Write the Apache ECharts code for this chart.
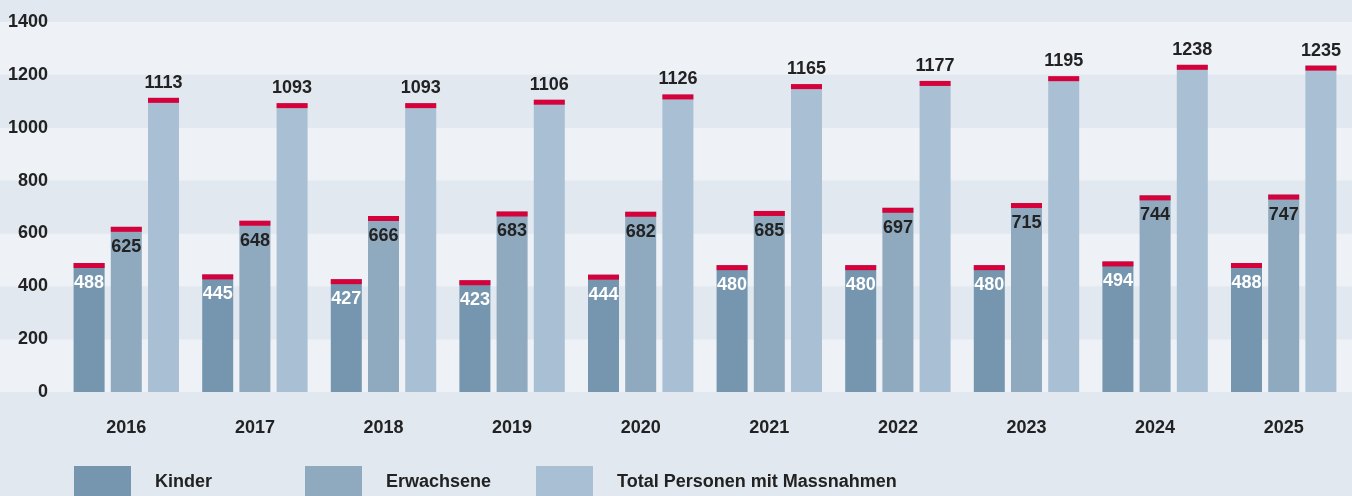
<!DOCTYPE html>
<html>
<head>
<meta charset="utf-8">
<script src="https://cdn.jsdelivr.net/npm/echarts@6/dist/echarts.min.js"></script>
<style>
  html, body { margin: 0; padding: 0; background: #e1e8f0; }
  #chart { width: 1352px; height: 496px; }
</style>
</head>
<body>
<div id="chart"></div>
<script>
const YEARS = ['2016', '2017', '2018', '2019', '2020', '2021', '2022', '2023', '2024', '2025'];
const kinder = [488, 445, 427, 423, 444, 480, 480, 480, 494, 488];
const erwachsene = [625, 648, 666, 683, 682, 685, 697, 715, 744, 747];
const total = [1113, 1093, 1093, 1106, 1126, 1165, 1177, 1195, 1238, 1235];
const NAMES = ['Kinder', 'Erwachsene', 'Total Personen mit Massnahmen'];
const COLORS = ['#7596ae', '#8fa9bf', '#a9bfd3'];
const LEGEND_LEFT = [74, 305, 536];

const FONT = '"Liberation Sans Narrow", "Liberation Sans", Arial, sans-serif';
const FONT_SIZE = 18;
const TEXT = '#222222';
const RED = '#d6003a';

const chart = echarts.init(document.getElementById('chart'));

const barBase = {
  type: 'bar',
  xAxisIndex: 1,
  yAxisIndex: 1,
  barWidth: 31,
  barGap: '20%',
  z: 2,
};

const capBase = {
  type: 'pictorialBar',
  xAxisIndex: 1,
  yAxisIndex: 1,
  barWidth: 31,
  barGap: '20%',
  symbol: 'rect',
  symbolSize: [31, 5],
  symbolPosition: 'end',
  itemStyle: { color: RED },
  silent: true,
  z: 3,
};

const labelBase = {
  show: true,
  fontFamily: FONT,
  fontSize: FONT_SIZE,
  fontWeight: 'bold',
};

// one legend per item so they sit on a fixed spacing like the original
const legends = NAMES.map((name, i) => ({
  left: LEGEND_LEFT[i],
  top: 466,
  padding: 0,
  itemWidth: 57,
  itemHeight: 32,
  icon: 'rect',
  selectedMode: false,
  data: [name],
  textStyle: {
    color: TEXT,
    fontFamily: FONT,
    fontSize: FONT_SIZE,
    fontWeight: 'bold',
    padding: [0, 0, 0, 19],
  },
}));

const option = {
  animation: false,
  backgroundColor: '#e1e8f0',
  textStyle: { fontFamily: FONT },
  grid: [
    { left: 0, right: 0, top: 22, bottom: 104 },
    { left: 62, right: 4, top: 22, bottom: 104 },
  ],
  xAxis: [
    { type: 'value', gridIndex: 0, min: 0, max: 1, show: false },
    {
      type: 'category',
      gridIndex: 1,
      data: YEARS,
      axisLine: { show: false },
      axisTick: { show: false },
      axisLabel: {
        margin: 27,
        color: TEXT,
        fontFamily: FONT,
        fontSize: FONT_SIZE,
        fontWeight: 'bold',
      },
    },
  ],
  yAxis: [
    {
      type: 'value',
      gridIndex: 0,
      min: 0,
      max: 1400,
      interval: 200,
      axisLine: { show: false },
      axisTick: { show: false },
      splitLine: { show: false },
      splitArea: {
        show: true,
        areaStyle: { color: ['#eef2f7', '#e1e8f0'] },
      },
      axisLabel: {
        inside: true,
        align: 'right',
        margin: 48,
        color: TEXT,
        fontFamily: FONT,
        fontSize: FONT_SIZE,
        fontWeight: 'bold',
        formatter: (v) => String(v),
      },
    },
    { type: 'value', gridIndex: 1, min: 0, max: 1400, interval: 200, show: false },
  ],
  legend: legends,
  series: [
    {
      ...barBase,
      name: NAMES[0],
      data: kinder,
      itemStyle: { color: COLORS[0] },
      label: { ...labelBase, position: 'insideTop', distance: 11, color: '#ffffff' },
    },
    {
      ...barBase,
      name: NAMES[1],
      data: erwachsene,
      itemStyle: { color: COLORS[1] },
      label: { ...labelBase, position: 'insideTop', distance: 11, color: TEXT },
    },
    {
      ...barBase,
      name: NAMES[2],
      data: total,
      itemStyle: { color: COLORS[2] },
      label: { ...labelBase, position: 'top', distance: 6, color: TEXT },
    },
    { ...capBase, name: 'cap-k', data: kinder },
    { ...capBase, name: 'cap-e', data: erwachsene },
    { ...capBase, name: 'cap-t', data: total },
  ],
};

chart.setOption(option);

window.addEventListener('resize', () => chart.resize());
</script>
</body>
</html>
